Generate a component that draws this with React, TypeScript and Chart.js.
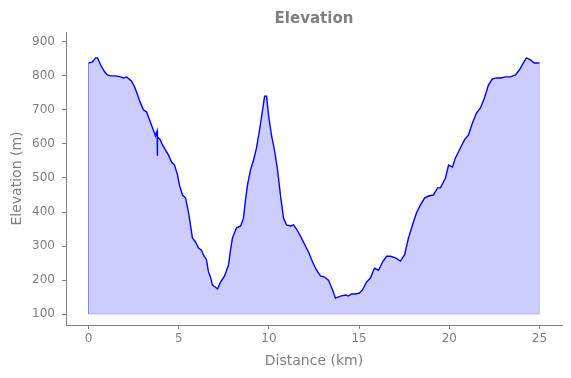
import React, { useEffect, useRef } from "react";
import { Chart, registerables } from "chart.js";

Chart.register(...registerables);

const distanceKm = [
  0, 0.22, 0.39, 0.5, 0.67, 0.89, 1.05, 1.22, 1.5, 1.77, 1.94, 2.11, 2.38, 2.55, 2.72, 2.88,
  3.05, 3.22, 3.38, 3.55, 3.71, 3.8, 3.81, 3.83, 3.95, 4.1, 4.27, 4.43, 4.6, 4.77, 4.93, 5.04,
  5.21, 5.38, 5.54, 5.65, 5.76, 5.93, 6.1, 6.26, 6.37, 6.54, 6.65, 6.76, 6.87, 7.04, 7.15,
  7.32, 7.54, 7.76, 7.87, 7.98, 8.2, 8.43, 8.59, 8.7, 8.81, 8.98, 9.15, 9.31, 9.48, 9.65,
  9.76, 9.87, 9.98, 10.14, 10.31, 10.48, 10.64, 10.81, 10.98, 11.2, 11.36, 11.53, 11.75,
  11.97, 12.2, 12.42, 12.64, 12.86, 13.08, 13.3, 13.53, 13.69, 13.97, 14.25, 14.41, 14.58,
  14.8, 15.02, 15.19, 15.41, 15.63, 15.85, 16.08, 16.3, 16.52, 16.74, 17.02, 17.29, 17.52,
  17.74, 17.96, 18.18, 18.4, 18.63, 18.85, 19.12, 19.35, 19.51, 19.79, 19.96, 20.18, 20.34,
  20.62, 20.84, 21.06, 21.29, 21.51, 21.73, 21.95, 22.17, 22.39, 22.62, 22.84, 23.11, 23.39,
  23.67, 23.89, 24.11, 24.28, 24.5, 24.72, 25.0,
];

const elevationM = [
  838, 841, 853, 853, 832, 812, 803, 800, 800, 797, 794, 797, 785, 768, 744, 720,
  700, 694, 671, 647, 624, 638, 565, 620, 615, 597, 582, 568, 547, 538, 509, 479,
  450, 441, 400, 362, 324, 312, 294, 288, 274, 259, 224, 209, 185, 179, 174,
  194, 212, 244, 288, 324, 353, 359, 382, 435, 479, 524, 553, 588, 641, 700,
  740, 740, 685, 626, 582, 524, 450, 382, 362, 359, 362, 350, 329,
  306, 282, 253, 229, 212, 209, 200, 171, 147, 153, 156, 153, 159,
  159, 162, 171, 194, 206, 235, 229, 253, 270, 270, 265, 256, 274,
  324, 362, 397, 421, 441, 447, 450, 471, 471, 500, 538, 532, 559,
  588, 612, 626, 662, 691, 706, 735, 773, 791, 794, 794, 797, 797,
  803, 818, 838, 853, 847, 838, 838,
];

const fillBase = 100;
const xTickValues = [0, 5, 10, 15, 20, 25];
const yTickValues = [100, 200, 300, 400, 500, 600, 700, 800, 900];

export default function App() {
  const ref = useRef<HTMLCanvasElement | null>(null);

  useEffect(() => {
    if (!ref.current) return;
    const profile = distanceKm.map((x, i) => ({ x, y: elevationM[i] }));
    const last = distanceKm.length - 1;
    const outline = [
      { x: distanceKm[0], y: elevationM[0] },
      { x: distanceKm[0], y: fillBase },
      { x: distanceKm[last], y: fillBase },
      { x: distanceKm[last], y: elevationM[last] },
    ];
    const gray = "#808080";
    const chart = new Chart(ref.current, {
      type: "line",
      data: {
        datasets: [
          {
            data: outline,
            borderColor: "rgba(0,0,255,0.2)",
            borderWidth: 1,
            pointRadius: 0,
            fill: false,
          },
          {
            data: profile,
            borderColor: "#0000ff",
            borderWidth: 1.4,
            backgroundColor: "rgba(0,0,255,0.2)",
            fill: { value: fillBase },
            pointRadius: 0,
            tension: 0,
          },
        ],
      },
      options: {
        animation: false,
        responsive: false,
        maintainAspectRatio: false,
        layout: { padding: { top: 0, right: 9, left: 0, bottom: 0 } },
        plugins: {
          legend: { display: false },
          tooltip: { enabled: false },
          title: {
            display: true,
            text: "Elevation",
            color: gray,
            fullSize: false,
            font: { family: "DejaVu Sans", size: 15, weight: "bold" },
            padding: { top: 10, bottom: 4 },
          },
        },
        scales: {
          x: {
            type: "linear",
            min: -1.25,
            max: 26.25,
            afterBuildTicks: (s: any) => {
              s.ticks = xTickValues.map((v) => ({ value: v }));
            },
            afterFit: (s: any) => {
              s.height = 53;
            },
            grid: { drawOnChartArea: false, drawTicks: true, tickLength: 4, color: gray },
            border: { display: true, color: gray },
            ticks: {
              color: gray,
              padding: 3,
              maxRotation: 0,
              font: { family: "DejaVu Sans", size: 12 },
            },
            title: {
              display: true,
              text: "Distance (km)",
              color: gray,
              font: { family: "DejaVu Sans", size: 14 },
              padding: { top: 0, bottom: 8 },
            },
          },
          y: {
            type: "linear",
            min: 68,
            max: 929,
            afterBuildTicks: (s: any) => {
              s.ticks = yTickValues.map((v) => ({ value: v }));
            },
            afterFit: (s: any) => {
              s.width = 66;
            },
            grid: { drawOnChartArea: false, drawTicks: true, tickLength: 4, color: gray },
            border: { display: true, color: gray },
            ticks: {
              color: gray,
              padding: 7,
              font: { family: "DejaVu Sans", size: 12 },
            },
            title: {
              display: true,
              text: "Elevation (m)",
              color: gray,
              font: { family: "DejaVu Sans", size: 14 },
              padding: { top: 9, bottom: 0 },
            },
          },
        },
      },
    });
    return () => chart.destroy();
  }, []);

  return (
    <div style={{ position: "fixed", left: 0, top: 0, width: 571, height: 378, background: "#fff" }}>
      <canvas ref={ref} width={571} height={378} style={{ width: 571, height: 378 }} />
    </div>
  );
}
